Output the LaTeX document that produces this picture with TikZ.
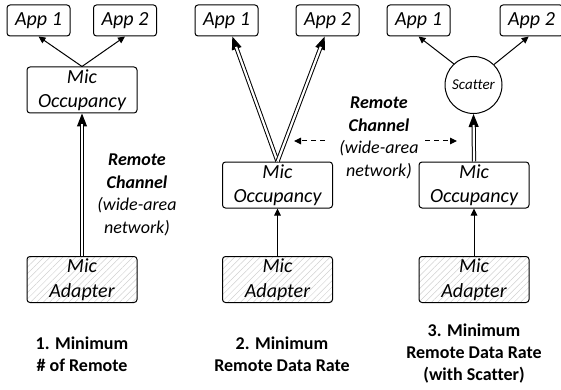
\documentclass[tikz,border=0pt]{standalone}
\usepackage{fontspec}
\setmainfont{Carlito}[Ligatures=NoCommon]
\usetikzlibrary{arrows.meta,patterns.meta}

\begin{document}
\begin{tikzpicture}[x=1pt,y=-1pt,
  box/.style={draw, line width=1pt, rounded corners=3pt, align=center,
    inner sep=0pt, font=\fontsize{20}{24.5}\selectfont\itshape},
  app/.style={box, minimum width=63pt, minimum height=31pt},
  mic/.style={box, minimum width=110pt, minimum height=46pt},
  adapter/.style={mic, pattern={Lines[angle=45,distance=4.5pt,line width=0.5pt]},
    pattern color=black!18},
  scatternode/.style={draw, circle, line width=1pt, minimum size=57pt, inner sep=0pt,
    font=\fontsize{15}{18}\selectfont\itshape},
  conn/.style={line width=1pt, -{Triangle[length=7pt,width=6.5pt]}},
  % solid head first, then the double shaft laid over it up to the head's base
  dbl/.style={line width=1pt, -{Triangle[length=13pt,width=10pt]},
    postaction={draw, line width=1pt, double, double distance=2.2pt, -,
      shorten >=11pt}},
  dashconn/.style={line width=1pt, dash pattern=on 5pt off 4pt,
    -{Triangle[length=7pt,width=6.5pt]}},
  note/.style={align=center, font=\fontsize{18}{22.5}\selectfont},
  caption/.style={align=center, font=\fontsize{18}{22}\selectfont\bfseries}
]
\useasboundingbox (0,0) rectangle (561,390);

% ---------- 1. minimum number of remote channels ----------
\node[app] (a11) at (38.5,20.5) {App 1};
\node[app] (a12) at (125,20.5) {App 2};
\node[mic] (occ1) at (82,90) {Mic\\Occupancy};
\node[adapter] (adp1) at (82,279.5) {Mic\\Adapter};
\draw[conn] (occ1.north) -- (a11.south);
\draw[conn] (occ1.north) -- (a12.south);
\draw[dbl] (adp1.north) -- (occ1.south);
\node[note] (rc1) at (137,195) {\textbf{\textit{Remote}}\\\textbf{\textit{Channel}}\\\textit{(wide-area}\\\textit{network)}};
\node[caption] (cap1) at (82,354) {1. Minimum\\\# of Remote};

% ---------- 2. minimum remote data rate ----------
\node[app] (a21) at (226.5,20.5) {App 1};
\node[app] (a22) at (327.5,20.5) {App 2};
\node[mic] (occ2) at (277.5,185) {Mic\\Occupancy};
\node[adapter] (adp2) at (277.5,279.5) {Mic\\Adapter};
\draw[dbl] (occ2.north) -- (a21.-70);
\draw[dbl] (occ2.north) -- (a22.-100);
\draw[conn] (adp2.north) -- (occ2.south);
\node[caption] (cap2) at (282,354) {2. Minimum\\Remote Data Rate};

% shared channel label between panels 2 and 3
\node[note] (rc2) at (379,138) {\textbf{\textit{Remote}}\\\textbf{\textit{Channel}}\\\textit{(wide-area}\\\textit{network)}};
\coordinate (d2s) at (325,141);
\coordinate (d2e) at (294,141);
\coordinate (d3s) at (425,141);
\coordinate (d3e) at (457,141);
\draw[dashconn] (d2s) -- (d2e);
\draw[dashconn] (d3s) -- (d3e);

% ---------- 3. minimum remote data rate with scatter ----------
\node[app] (a31) at (418.5,20.5) {App 1};
\node[app] (a32) at (531.5,20.5) {App 2};
\node[scatternode] (sc) at (473.5,85) {Scatter};
\node[mic] (occ3) at (474,185) {Mic\\Occupancy};
\node[adapter] (adp3) at (474,279.5) {Mic\\Adapter};
\draw[conn] (sc.133) -- (a31.south);
\draw[conn] (sc.45) -- (a32.-100);
\draw[dbl] (occ3.north) -- (sc.south);
\draw[conn] (adp3.north) -- (occ3.south);
\node[caption] (cap3) at (474,354) {3. Minimum\\Remote Data Rate\\(with Scatter)};
\end{tikzpicture}
\end{document}
